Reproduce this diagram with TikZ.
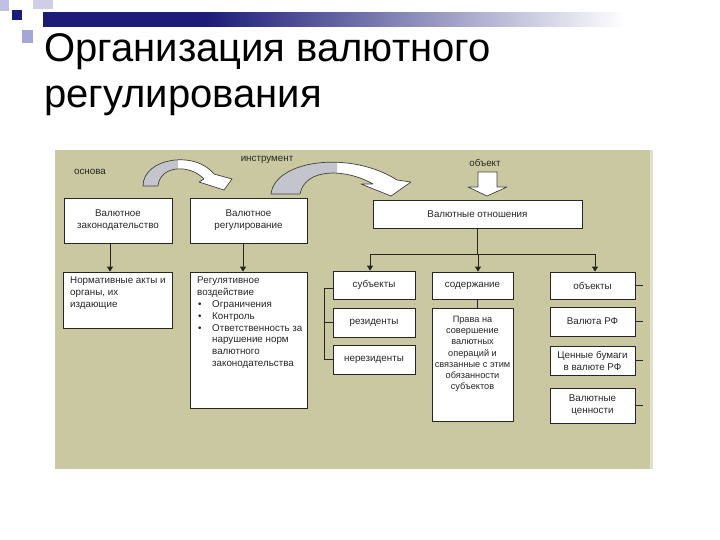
\documentclass[tikz,border=0pt]{standalone}
\usepackage{fontspec}
\setmainfont{Liberation Sans}
\usetikzlibrary{arrows.meta,calc,shadows}
\definecolor{bgol}{RGB}{201,200,160}
\definecolor{navyc}{RGB}{28,28,120}
\definecolor{lav}{RGB}{165,165,215}
\definecolor{arrgray}{RGB}{196,196,204}
\pgfdeclarehorizontalshading{barshade}{100bp}{color(0bp)=(navyc); color(37bp)=(navyc); color(68bp)=(white); color(100bp)=(white)}
\tikzset{
  box/.style={draw=black!85, fill=white, line width=0.7pt, inner sep=0pt,
    align=center, font=\fontsize{9.8}{12}\selectfont, text=black!85,
    drop shadow={shadow xshift=1.3pt, shadow yshift=-1.3pt, fill=black!55, opacity=1}},
  txt/.style={inner sep=0pt, font=\fontsize{9.8}{12}\selectfont, text=black!85},
  conn/.style={draw=black!85, line width=0.7pt},
  arr/.style={conn, -{Triangle[length=5pt,width=6pt]}},
  blockarr/.style={draw=black!75, line width=0.7pt, line join=round}
}
\begin{document}
\begin{tikzpicture}[x=1pt,y=-1pt]
\useasboundingbox (0,0) rectangle (720,540);
\fill[white] (0,0) rectangle (720,540);
% header decoration
\shade[shading=barshade] (43,13) rectangle (720,27);
\fill[lav!70] (0,0) rectangle (9,11);
\fill[lav!55] (33,0) rectangle (53,9);
\fill[navyc] (12,10) rectangle (22,20);
\fill[lav] (22,30) rectangle (33,43);
% title
\node[anchor=base west, inner sep=0pt, font=\fontsize{40}{46}\selectfont] (t1) at (44,62) {Организация валютного};
\node[anchor=base west, inner sep=0pt, font=\fontsize{40}{46}\selectfont] (t2) at (44,108) {регулирования};
% diagram background
\fill[bgol] (55,150) rectangle (650,469);
\fill[bgol!55!white] (650,150) rectangle (653,469);
% labels
\node[txt] (lbos) at (90,172) {основа};
\node[txt] (lbin) at (267,160) {инструмент};
\node[txt] (lbob) at (485,163) {объект};
% curved block arrows
\def\arrA{(143,186) .. controls (143,158) and (195,150) .. (214,174) -- (232,179) -- (224,190) -- (199,182) -- (204,179) .. controls (190,164) and (160,165) .. (158,186) -- cycle}
\def\arrB{(271,194) .. controls (275,160) and (350,150) .. (397,180) -- (411,182) -- (391,196) -- (361,184) -- (373,184) .. controls (345,168) and (305,168) .. (300,194) -- cycle}
\fill[white] \arrA;
\begin{scope}\clip (0,0) rectangle (178,540); \fill[arrgray] \arrA; \end{scope}
\draw[blockarr] \arrA;
\fill[white] \arrB;
\begin{scope}\clip (0,0) rectangle (337,540); \fill[arrgray] \arrB; \end{scope}
\draw[blockarr] \arrB;
% object arrow
\filldraw[blockarr, fill=white] (478,172) -- (497,172) -- (497,187) -- (507,187) -- (487,196) -- (468,187) -- (478,187) -- cycle;
% row 1
\node[box, minimum width=108pt, minimum height=45pt] (vz) at (118,220.5) {Валютное\\законодательство};
\node[box, minimum width=117pt, minimum height=45pt] (vr) at (248.5,220.5) {Валютное\\регулирование};
\node[box, minimum width=209pt, minimum height=28pt] (vo) at (477.5,214) {Валютные отношения};
% row 2 left
\node[box, minimum width=109pt, minimum height=56pt] (na) at (117.5,300) {};
\node[txt, anchor=north west, align=left] (nat) at (70,277) {Нормативные акты и\\органы, их\\издающие};
\node[box, minimum width=117pt, minimum height=136pt] (rv) at (248.5,340) {};
\node[txt, anchor=north west, align=left, font=\fontsize{9.8}{11.8}\selectfont] (rvt) at (197,277)
 {Регулятивное\\воздействие\\
  \hspace*{1pt}\makebox[14pt][l]{\textbullet}Ограничения\\
  \hspace*{1pt}\makebox[14pt][l]{\textbullet}Контроль\\
  \hspace*{1pt}\makebox[14pt][l]{\textbullet}Ответственность за\\
  \hspace*{15pt}нарушение норм\\
  \hspace*{15pt}валютного\\
  \hspace*{15pt}законодательства};
% row 2 right
\node[box, minimum width=82pt, minimum height=28pt] (sub) at (374,285) {субъекты};
\node[box, minimum width=82pt, minimum height=29pt] (res) at (374,322.5) {резиденты};
\node[box, minimum width=82pt, minimum height=29pt] (nres) at (374,359.5) {нерезиденты};
\node[box, minimum width=81pt, minimum height=27pt] (sod) at (472.5,285.5) {содержание};
\node[box, minimum width=81pt, minimum height=113pt] (prav) at (472.5,364.5) {};
\node[txt, anchor=north, align=center, font=\fontsize{9.2}{11.2}\selectfont] (pravt) at (472.5,316)
 {Права на\\совершение\\валютных\\операций и\\связанные с этим\\обязанности\\субъектов};
\node[box, minimum width=85pt, minimum height=27pt] (obj) at (592.5,285.5) {объекты};
\node[box, minimum width=85pt, minimum height=29pt] (vrf) at (592.5,321.5) {Валюта РФ};
\node[box, minimum width=85pt, minimum height=29pt] (cb) at (592.5,360.5) {Ценные бумаги\\в валюте РФ};
\node[box, minimum width=85pt, minimum height=35pt] (vc) at (592.5,405.5) {Валютные\\ценности};
% connectors
\draw[arr] ([xshift=-8pt]vz.south) -- ([xshift=-7.5pt]na.north);
\draw[arr] ([xshift=-5.5pt]vr.south) -- ([xshift=-5.5pt]rv.north);
\coordinate (hb) at (0,254);
\draw[conn] (vo.south) -- (vo.south |- hb);
\draw[conn] ([xshift=-4pt]sub.north |- hb) -- ([xshift=2.5pt]obj.north |- hb);
\draw[arr] ([xshift=-4pt]sub.north |- hb) -- ([xshift=-4pt]sub.north);
\draw[arr] ([xshift=5.5pt]sod.north |- hb) -- ([xshift=5.5pt]sod.north);
\draw[arr] ([xshift=2.5pt]obj.north |- hb) -- ([xshift=2.5pt]obj.north);
\draw[conn] ([xshift=4.5pt]sod.south) -- ([xshift=4.5pt]prav.north);
\coordinate (brx) at (324,0);
\draw[conn] ([yshift=-3pt]sub.west) -| (brx |- nres.west) -- (nres.west);
\draw[conn] (res.west) -- (brx |- res.west);
\coordinate (tk1) at (643,0);
\draw[conn] (obj.east) -- (tk1 |- obj.east);
\draw[conn] (vrf.east) -- (tk1 |- vrf.east);
\draw[conn] (cb.east) -- (tk1 |- cb.east);
\draw[conn] (vc.east) -- (tk1 |- vc.east);
\end{tikzpicture}
\end{document}
